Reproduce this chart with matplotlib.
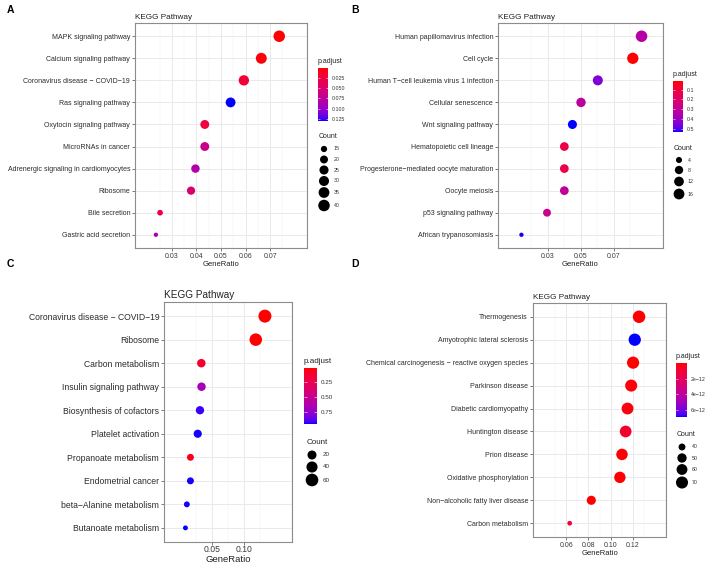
import numpy as np
import matplotlib
matplotlib.use("Agg")
import matplotlib.pyplot as plt
import matplotlib.colors as mcolors
from matplotlib.cm import ScalarMappable

plt.rcParams['font.family'] = ['Liberation Sans', 'DejaVu Sans']

W, H = 708, 565

# ---- panel A ----
a_terms = ["MAPK signaling pathway", "Calcium signaling pathway", "Coronavirus disease − COVID−19",
           "Ras signaling pathway", "Oxytocin signaling pathway", "MicroRNAs in cancer",
           "Adrenergic signaling in cardiomyocytes", "Ribosome", "Bile secretion", "Gastric acid secretion"]
a_ratio = [0.0737, 0.0664, 0.0593, 0.0539, 0.0434, 0.0434, 0.0396, 0.0378, 0.0252, 0.0235]
a_count = [40, 36, 32, 29, 24, 24, 22, 21, 14, 13]
a_padj = [0.002, 0.004, 0.022, 0.130, 0.025, 0.066, 0.085, 0.050, 0.027, 0.090]
a_xticks = [0.03, 0.04, 0.05, 0.06, 0.07]
a_xlabels = ["0.03", "0.04", "0.05", "0.06", "0.07"]
a_cticks = [0.025, 0.050, 0.075, 0.100, 0.125]
a_clabels = ["0.025", "0.050", "0.075", "0.100", "0.125"]
a_breaks = [15, 20, 25, 30, 35, 40]

# ---- panel B ----
b_terms = ["Human papillomavirus infection", "Cell cycle", "Human T−cell leukemia virus 1 infection",
           "Cellular senescence", "Wnt signaling pathway", "Hematopoietic cell lineage",
           "Progesterone−mediated oocyte maturation", "Oocyte meiosis", "p53 signaling pathway",
           "African trypanosomiasis"]
b_ratio = [0.0870, 0.0817, 0.0605, 0.0503, 0.0451, 0.0402, 0.0402, 0.0402, 0.0297, 0.0142]
b_count = [19, 18, 13, 11, 10, 9, 9, 9, 7, 3]
b_padj = [0.34, 0.012, 0.45, 0.32, 0.535, 0.13, 0.13, 0.30, 0.28, 0.53]
b_xticks = [0.03, 0.05, 0.07]
b_xlabels = ["0.03", "0.05", "0.07"]
b_cticks = [0.1, 0.2, 0.3, 0.4, 0.5]
b_clabels = ["0.1", "0.2", "0.3", "0.4", "0.5"]
b_breaks = [4, 8, 12, 16]

# ---- panel C ----
c_terms = ["Coronavirus disease − COVID−19", "Ribosome", "Carbon metabolism", "Insulin signaling pathway",
           "Biosynthesis of cofactors", "Platelet activation", "Propanoate metabolism",
           "Endometrial cancer", "beta−Alanine metabolism", "Butanoate metabolism"]
c_ratio = [0.1327, 0.1184, 0.0333, 0.0336, 0.0312, 0.0277, 0.0163, 0.0163, 0.0107, 0.0085]
c_count = [65, 58, 16, 16, 15, 14, 8, 8, 5, 4]
c_padj = [0.012, 0.015, 0.12, 0.68, 0.93, 0.95, 0.05, 0.95, 0.95, 0.96]
c_xticks = [0.05, 0.10]
c_xlabels = ["0.05", "0.10"]
c_cticks = [0.25, 0.50, 0.75]
c_clabels = ["0.25", "0.50", "0.75"]
c_breaks = [20, 40, 60]

# ---- panel D ----
d_terms = ["Thermogenesis", "Amyotrophic lateral sclerosis", "Chemical carcinogenesis − reactive oxygen species",
           "Parkinson disease", "Diabetic cardiomyopathy", "Huntington disease", "Prion disease",
           "Oxidative phosphorylation", "Non−alcoholic fatty liver disease", "Carbon metabolism"]
d_ratio = [0.1257, 0.1218, 0.1203, 0.1186, 0.1153, 0.1136, 0.1103, 0.1084, 0.0826, 0.0631]
d_count = [74, 72, 71, 70, 68, 67, 65, 64, 49, 37]
d_padj = [1e-14, 6.9e-12, 3e-14, 1e-13, 2e-13, 8e-13, 5e-14, 2e-14, 1e-14, 9e-13]
d_xticks = [0.06, 0.08, 0.10, 0.12]
d_xlabels = ["0.06", "0.08", "0.10", "0.12"]
d_cticks = [2e-12, 4e-12, 6e-12]
d_clabels = ["2e−12", "4e−12", "6e−12"]
d_breaks = [40, 50, 60, 70]


# red -> blue gradient interpolated in CIELAB, like ggplot's scale_colour_continuous
M = np.array([[0.4124, 0.3576, 0.1805], [0.2126, 0.7152, 0.0722], [0.0193, 0.1192, 0.9505]])
WP = np.array([0.95047, 1.0, 1.08883])


def to_lab(h):
    rgb = np.array(mcolors.to_rgb(h))
    lin = np.where(rgb <= 0.04045, rgb / 12.92, ((rgb + 0.055) / 1.055) ** 2.4)
    xyz = M @ lin / WP
    f = np.where(xyz > 0.008856, np.cbrt(xyz), 7.787 * xyz + 16 / 116)
    return np.array([116 * f[1] - 16, 500 * (f[0] - f[1]), 200 * (f[1] - f[2])])


def from_lab(lab):
    fy = (lab[0] + 16) / 116
    f = np.array([fy + lab[1] / 500, fy, fy - lab[2] / 200])
    xyz = np.where(f ** 3 > 0.008856, f ** 3, (f - 16 / 116) / 7.787) * WP
    lin = np.clip(np.linalg.inv(M) @ xyz, 0, 1)
    return np.clip(np.where(lin <= 0.0031308, 12.92 * lin, 1.055 * lin ** (1 / 2.4) - 0.055), 0, 1)


lab_r, lab_b = to_lab("#FF0000"), to_lab("#0000FF")
stops = [from_lab(lab_r + t * (lab_b - lab_r)) for t in np.linspace(0, 1, 64)]
cmap = mcolors.LinearSegmentedColormap.from_list("rb", stops)


def px_rect(l, t, r, b):
    return [l / W, 1 - b / H, (r - l) / W, (b - t) / H]


def diam(c, lo, hi, dmax):
    t = (np.asarray(c, float) - lo) / (hi - lo)
    return dmax * (3 + 5 * np.sqrt(np.clip(t, 0, 1))) / 8


fig = plt.figure(figsize=(W / 100, H / 100), dpi=100)
over = fig.add_axes([0, 0, 1, 1], zorder=5)
over.set_xlim(0, W)
over.set_ylim(H, 0)
over.axis('off')


def panel(box, terms, ratio, count, padj, xticks, xlabels, cticks, clabels, breaks,
          dmax, fs, tfs, leg, xpad=1.5):
    ax = fig.add_axes(px_rect(*box))
    n = len(terms)
    ypos = np.arange(n)[::-1] + 1
    lo, hi = min(ratio), max(ratio)
    pad = 0.05 * (hi - lo)
    norm = mcolors.Normalize(min(padj), max(padj))
    cmin, cmax = min(count), max(count)
    sizes = (diam(count, cmin, cmax, dmax) * 0.72) ** 2
    ax.scatter(ratio, ypos, s=sizes, c=cmap(norm(padj)), zorder=3, linewidths=0)
    ax.set_xlim(lo - pad, hi + pad)
    ax.set_ylim(0.4, n + 0.6)
    ax.set_yticks(ypos)
    ax.set_yticklabels(terms, fontsize=fs, color='#2b2b2b')
    ax.set_xticks(xticks)
    ax.set_xticklabels(xlabels, fontsize=fs, color='#3a3a3a')
    step = xticks[1] - xticks[0]
    minor = np.arange(xticks[0] - step * 1.5, xticks[-1] + step * 1.6, step)
    ax.set_xticks(minor, minor=True)
    ax.tick_params(axis='x', which='minor', length=0)
    ax.grid(True, which='major', color='#e6e6e6', linewidth=0.6)
    ax.grid(True, which='minor', axis='x', color='#efefef', linewidth=0.35)
    ax.set_axisbelow(True)
    ax.tick_params(which='major', length=2, width=0.5, color='#444444', pad=1.5)
    ax.tick_params(axis='x', which='major', pad=xpad)
    for sp in ax.spines.values():
        sp.set_color('#8c8c8c')
        sp.set_linewidth(0.8)
    ax.set_xlabel("GeneRatio", fontsize=fs * 1.1, color='#222222', labelpad=0.5)
    ax.set_title("KEGG Pathway", fontsize=tfs, loc='left', color='#222222', pad=3)

    # colour bar
    bx0, by0, bx1, by1 = leg['bar']
    over.text(bx0, by0 - 3, "p.adjust", fontsize=leg['tfs'], ha='left', va='bottom', color='#222222')
    cax = fig.add_axes(px_rect(bx0, by0, bx1, by1))
    cb = fig.colorbar(ScalarMappable(norm=norm, cmap=cmap), cax=cax)
    cb.outline.set_visible(False)
    cax.invert_yaxis()
    cax.set_yticks(cticks)
    cax.set_yticklabels(clabels)
    cax.yaxis.set_ticks_position('both')
    cax.tick_params(axis='y', direction='in', length=(bx1 - bx0) * 0.15, width=0.4, color='white',
                    labelsize=leg['lfs'], labelcolor='#333333', pad=2.5, labelleft=False, labelright=True)

    # size legend
    cx, ty, ys, lx = leg['count']
    over.text(cx - 5, ty, "Count", fontsize=leg['tfs'], ha='left', va='center', color='#222222')
    dl = diam(breaks, cmin, cmax, dmax)
    over.scatter([cx] * len(breaks), ys, s=(dl * 0.72) ** 2, c='black', linewidths=0)
    for yy, bk in zip(ys, breaks):
        over.text(lx, yy, str(bk), fontsize=leg['lfs'], ha='left', va='center', color='#333333')
    return ax


panel((135, 23, 307, 248), a_terms, a_ratio, a_count, a_padj, a_xticks, a_xlabels, a_cticks, a_clabels,
      a_breaks, 11.5, 5.0, 5.9,
      {'bar': (318, 68, 328, 121), 'tfs': 5.0, 'lfs': 3.8,
       'count': (324, 137, [149, 159.5, 170, 181, 192.5, 205.5], 334)})
panel((498, 23, 663, 248), b_terms, b_ratio, b_count, b_padj, b_xticks, b_xlabels, b_cticks, b_clabels,
      b_breaks, 11.5, 5.0, 5.9,
      {'bar': (673, 81, 683, 132), 'tfs': 5.0, 'lfs': 3.8,
       'count': (679, 149, [160, 170, 181.5, 194], 688)})
panel((164, 302, 292, 542), c_terms, c_ratio, c_count, c_padj, c_xticks, c_xlabels, c_cticks, c_clabels,
      c_breaks, 13, 6.2, 7.2,
      {'bar': (304, 368, 317, 424), 'tfs': 5.8, 'lfs': 4.5,
       'count': (312, 442, [455, 467, 480], 323)}, xpad=0.5)
panel((533, 303, 666, 537), d_terms, d_ratio, d_count, d_padj, d_xticks, d_xlabels, d_cticks, d_clabels,
      d_breaks, 12.5, 5.0, 5.9,
      {'bar': (676, 363, 687, 417), 'tfs': 5.0, 'lfs': 3.8,
       'count': (682, 435, [447, 458, 469.5, 482.5], 692)})

for lt, x, y in [("A", 10, 10), ("B", 355, 10), ("C", 10, 264), ("D", 355, 264)]:
    over.text(x, y, lt, fontsize=7.5, fontweight='bold', ha='center', va='center', color='black')

fig.savefig("out.png", dpi=100)
